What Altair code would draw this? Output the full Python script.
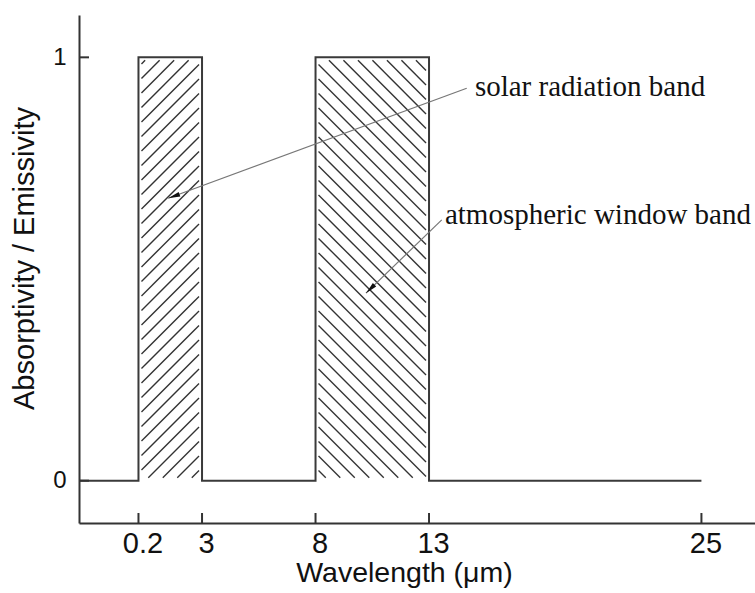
import altair as alt
import pandas as pd

# Spectral bands (wavelength in μm) and their absorptivity / emissivity level
band_name = ["solar radiation band", "atmospheric window band"]
band_start = [0.2, 8]
band_end = [3, 13]
band_level = [1, 1]
hatch_dir = ["/", "\\"]
profile_end = 25

# Axis ticks
x_ticks = [0.2, 3, 8, 13, 25]
y_ticks = [0, 1]

# Annotation anchors (data coordinates)
ann_label = ["solar radiation band", "atmospheric window band"]
ann_text_x = [15.02, 13.70]
ann_text_y = [0.909, 0.606]
ann_from_x = [14.66, 13.56]
ann_from_y = [0.927, 0.616]
ann_tip_x = [1.51, 10.22]
ann_tip_y = [0.667, 0.443]
ann_angle = [250, 226]

# Plot geometry
W, H = 676, 508
X_DOM = [-2.42, 27.36]
Y_DOM = [-0.1, 1.1]
SANS = "Liberation Sans, Arial, Helvetica, sans-serif"
SERIF = "Liberation Serif, Times New Roman, serif"
INK = "#333333"

# Step profile: 0 outside the bands, band level inside
px, py = [X_DOM[0]], [0]
for s, e, lvl in zip(band_start, band_end, band_level):
    px += [s, s, e, e]
    py += [0, lvl, lvl, 0]
px.append(profile_end)
py.append(0)
profile = pd.DataFrame({"x": px, "y": py, "i": range(len(px))})

# Diagonal hatching inside each band, spaced in screen pixels
kx = W / (X_DOM[1] - X_DOM[0])
ky = H / (Y_DOM[1] - Y_DOM[0])
step, inset = 14.5, 3.0
segs = []
for s, e, lvl, d in zip(band_start, band_end, band_level, hatch_dir):
    w = (e - s) * kx - 2 * inset
    h = lvl * ky - 2 * inset
    c = -w + step / 2 if d == "/" else step / 2
    stop = h if d == "/" else w + h
    while c < stop:
        if d == "/":
            xa, xb = max(0, -c), min(w, h - c)
            ya, yb = xa + c, xb + c
        else:
            xa, xb = max(0, c - h), min(w, c)
            ya, yb = c - xa, c - xb
        if xb > xa:
            segs.append({
                "x": s + (inset + xa) / kx, "y": (inset + ya) / ky,
                "x2": s + (inset + xb) / kx, "y2": (inset + yb) / ky,
            })
        c += step
hatch = pd.DataFrame(segs)

ann = pd.DataFrame({
    "label": ann_label, "tx": ann_text_x, "ty": ann_text_y,
    "fx": ann_from_x, "fy": ann_from_y,
    "ax": ann_tip_x, "ay": ann_tip_y, "angle": ann_angle,
})

xs = alt.Scale(domain=X_DOM, nice=False, zero=False)
ys = alt.Scale(domain=Y_DOM, nice=False, zero=False)

x_axis = alt.Axis(
    values=x_ticks, format="~g", grid=False, ticks=False, tickSize=0,
    labelFontSize=29, labelFont=SANS, labelColor="#111111", labelPadding=6, labelOffset=4,
    domainColor=INK, domainWidth=2,
    title="Wavelength (μm)", titleFont=SANS, titleFontSize=28.5, titleFontWeight="normal",
    titleColor="#111111", titleX=325, titleY=58, titleBaseline="alphabetic", titleAlign="center",
)
y_axis = alt.Axis(
    values=y_ticks, format="d", grid=False, ticks=False, tickSize=0,
    labelFontSize=24, labelFont=SANS, labelColor="#111111", labelPadding=13,
    domainColor=INK, domainWidth=2,
    title="Absorptivity / Emissivity", titleFont=SANS, titleFontSize=29,
    titleFontWeight="normal", titleColor="#111111", titleAngle=270,
    titleX=-46, titleY=243, titleBaseline="alphabetic", titleAlign="center",
)

hatch_layer = alt.Chart(hatch).mark_rule(color=INK, strokeWidth=1.4).encode(
    x=alt.X("x:Q", scale=xs, axis=x_axis), y=alt.Y("y:Q", scale=ys, axis=y_axis),
    x2="x2:Q", y2="y2:Q",
)

profile_layer = alt.Chart(profile).mark_line(color="#3a3a3a", strokeWidth=2).encode(
    x=alt.X("x:Q", scale=xs), y=alt.Y("y:Q", scale=ys), order="i:Q",
)

xtick_layer = alt.Chart(pd.DataFrame({"v": x_ticks})).mark_rule(
    color=INK, strokeWidth=2
).encode(x=alt.X("v:Q", scale=xs), y=alt.value(H), y2=alt.value(H - 10))

ytick_layer = alt.Chart(pd.DataFrame({"v": y_ticks})).mark_rule(
    color=INK, strokeWidth=2
).encode(y=alt.Y("v:Q", scale=ys), x=alt.value(0), x2=alt.value(10))

leader_layer = alt.Chart(ann).mark_rule(color="#777777", strokeWidth=1.2).encode(
    x=alt.X("fx:Q", scale=xs), y=alt.Y("fy:Q", scale=ys), x2="ax:Q", y2="ay:Q",
)

head_layer = alt.Chart(ann).mark_point(
    filled=True, shape="M0,0 L0.4,2 L-0.4,2 Z", size=144, color="#111111", opacity=1,
).encode(
    x=alt.X("ax:Q", scale=xs), y=alt.Y("ay:Q", scale=ys),
    angle=alt.Angle("angle:Q", scale=None),
)

text_layer = alt.Chart(ann).mark_text(
    align="left", baseline="alphabetic", font=SERIF, fontSize=29, color="#111111",
).encode(x=alt.X("tx:Q", scale=xs), y=alt.Y("ty:Q", scale=ys), text="label:N")

chart = alt.layer(
    hatch_layer, profile_layer, xtick_layer, ytick_layer,
    leader_layer, head_layer, text_layer,
).properties(
    width=W, height=H,
    autosize=alt.AutoSizeParams(type="none"),
    padding={"left": 79, "top": 15, "right": 0, "bottom": 70},
    background="white",
).configure_view(stroke=None)

chart.save("out.html", embed_options={"renderer": "svg", "actions": False})
